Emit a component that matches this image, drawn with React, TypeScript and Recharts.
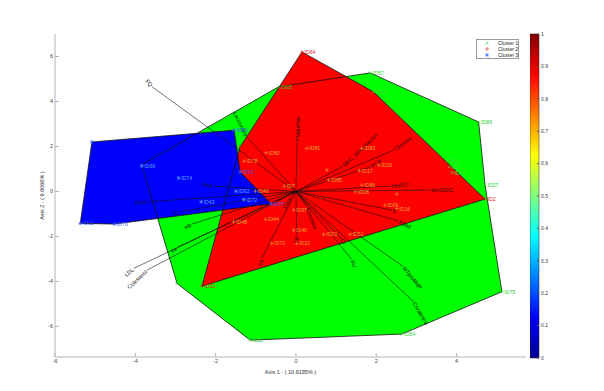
import React from 'react';
import { ScatterChart, Scatter, XAxis, YAxis, ComposedChart, ReferenceArea, Line } from 'recharts';

type Pt = { id: string; x: number; y: number };

// cluster members (Axis 1, Axis 2)
const cluster1: Pt[] = [
  { id: 'ID65', x: -0.43, y: 4.65 },
  { id: 'ID57', x: 1.85, y: 5.27 },
  { id: 'ID55', x: 1.93, y: 4.43 },
  { id: 'ID89', x: 4.55, y: 3.09 },
  { id: 'ID6', x: 3.77, y: 1.36 },
  { id: 'ID5', x: 3.82, y: 1.1 },
  { id: 'ID59', x: 3.89, y: 0.84 },
  { id: 'ID27', x: 4.71, y: 0.28 },
  { id: 'ID75', x: 5.13, y: -4.46 },
  { id: 'ID54', x: 2.64, y: -6.34 },
  { id: 'ID11', x: -1.14, y: -6.61 },
  { id: '', x: -2.96, y: -4.09 },
];

const cluster2: Pt[] = [
  { id: 'ID64', x: 0.15, y: 6.2 },
  { id: 'ID2', x: 4.71, y: -0.34 },
  { id: 'ID31', x: -2.34, y: -4.21 },
  { id: '', x: -1.39, y: 1.98 },
  { id: 'ID80', x: -0.74, y: 1.72 },
  { id: 'ID78', x: -1.29, y: 1.35 },
  { id: 'ID81', x: 0.27, y: 1.91 },
  { id: 'ID83', x: 1.64, y: 1.91 },
  { id: 'ID26', x: 2.06, y: 1.17 },
  { id: 'ID17', x: 1.58, y: 0.92 },
  { id: '', x: 0.77, y: 0.95 },
  { id: 'ID85', x: 0.81, y: 0.5 },
  { id: 'ID86', x: 1.64, y: 0.28 },
  { id: 'ID08', x: 1.48, y: -0.02 },
  { id: '', x: 2.51, y: -0.12 },
  { id: 'ID09', x: 2.22, y: -0.61 },
  { id: 'ID16', x: 2.51, y: -0.76 },
  { id: 'ID7', x: -0.29, y: 0.24 },
  { id: 'ID46', x: -1.01, y: 0.01 },
  { id: 'ID48', x: -1.55, y: -1.35 },
  { id: 'ID44', x: -0.76, y: -1.24 },
  { id: 'ID37', x: -0.06, y: -0.83 },
  { id: 'ID40', x: -0.06, y: -1.72 },
  { id: 'ID22', x: 0.02, y: -2.31 },
  { id: 'ID70', x: -0.6, y: -2.31 },
  { id: 'ID03', x: 0.69, y: -1.91 },
  { id: 'ID51', x: 1.35, y: -1.91 },
];

const cluster3: Pt[] = [
  { id: '', x: -5.08, y: 2.2 },
  { id: 'ID73', x: -1.54, y: 2.72 },
  { id: 'ID71', x: -1.39, y: 0.87 },
  { id: 'ID77', x: -0.62, y: -0.55 },
  { id: 'ID76', x: -4.52, y: -1.45 },
  { id: 'ID12', x: -5.37, y: -1.42 },
  { id: 'ID69', x: -3.84, y: 1.14 },
  { id: 'ID74', x: -2.92, y: 0.6 },
  { id: 'ID43', x: -2.36, y: -0.46 },
  { id: 'ID62', x: -1.49, y: 0.01 },
  { id: 'ID72', x: -1.3, y: -0.36 },
];

// hull vertices
const hull1 = [
  { x: -3.84, y: 1.19 }, { x: -0.43, y: 4.65 }, { x: 1.85, y: 5.27 }, { x: 4.55, y: 3.09 },
  { x: 4.71, y: 0.28 }, { x: 5.13, y: -4.46 }, { x: 2.64, y: -6.34 }, { x: -1.14, y: -6.61 },
  { x: -2.96, y: -4.09 },
];
const hull2 = [
  { x: 0.15, y: 6.2 }, { x: 1.93, y: 4.43 }, { x: 4.71, y: -0.34 }, { x: -2.34, y: -4.21 },
  { x: -1.39, y: 1.98 },
];
const hull3 = [
  { x: -5.08, y: 2.2 }, { x: -1.54, y: 2.72 }, { x: -1.39, y: 0.87 }, { x: -0.62, y: -0.55 },
  { x: -4.52, y: -1.45 }, { x: -5.37, y: -1.42 },
];

// variable loadings
const loadings = [
  { name: 'FQ', x: -3.58, y: 4.65 },
  { name: 'Leucocitos', x: -1.22, y: 2.43 },
  { name: 'Plaquetas', x: 0.03, y: 2.2 },
  { name: 'REC_alimentacion', x: 1.17, y: 1.12 },
  { name: 'PCR', x: 1.85, y: 1.09 },
  { name: 'Glucosa', x: 2.43, y: 1.83 },
  { name: 'HbA1C', x: 2.35, y: 0.24 },
  { name: 'MAGGIC', x: 3.34, y: 0.06 },
  { name: 'K', x: 2.39, y: -0.83 },
  { name: 'Edad', x: 2.55, y: -1.31 },
  { name: 'NTproBNP', x: 2.68, y: -3.35 },
  { name: 'Creatinina', x: 2.93, y: -4.9 },
  { name: 'AU', x: 1.39, y: -3.02 },
  { name: 'Cl', x: 1.13, y: -2.09 },
  { name: 'Albumina', x: 0.27, y: -0.68 },
  { name: 'Na', x: 0.02, y: -1.95 },
  { name: 'Ca', x: -0.85, y: -2.98 },
  { name: 'Urea', x: -0.14, y: -0.25 },
  { name: 'LDL', x: -4.04, y: -3.42 },
  { name: 'Colesterol', x: -3.71, y: -3.5 },
  { name: 'Fe', x: -2.95, y: -2.48 },
  { name: 'Hb', x: -2.59, y: -1.45 },
  { name: 'TG', x: -2.88, y: -0.9 },
  { name: 'PAD', x: -3.71, y: -0.46 },
  { name: 'PAS', x: -2.05, y: 0.24 },
];

const xTicks = [-6, -4, -2, 0, 2, 4];
const yTicks = [-6, -4, -2, 0, 2, 4, 6];
const cbTicks = [0, 0.1, 0.2, 0.3, 0.4, 0.5, 0.6, 0.7, 0.8, 0.9, 1];
const cbData = [{ x: 0, y: 0 }, { x: 1, y: 1 }];

const FONT = '"Liberation Sans", Arial, sans-serif';
const AXIS = '#b5b5b5';

const noShape = () => <g />;

const polyLine = (fill: string, stroke: string) => (p: any) => {
  const pts = (p.points || []).map((q: any) => `${q.x},${q.y}`).join(' ');
  return <polygon points={pts} fill={fill} stroke={stroke} strokeWidth={0.8} strokeLinejoin="round" />;
};

const vectorLine = (name: string, vx: number, vy: number) => (p: any) => {
  const [a, b] = p.points || [];
  if (!a || !b) return <g />;
  let theta = (Math.atan2(vy, vx) * 180) / Math.PI;
  const left = vx < 0;
  if (left) theta += 180;
  if (theta > 180) theta -= 360;
  const rot = -theta;
  return (
    <g>
      <line x1={a.x} y1={a.y} x2={b.x} y2={b.y} stroke="#111" strokeWidth={0.6} />
      <text
        x={b.x}
        y={b.y}
        dx={left ? -1 : 1}
        transform={`rotate(${rot}, ${b.x}, ${b.y})`}
        textAnchor={left ? 'end' : 'start'}
        dominantBaseline="central"
        fontSize={5.5}
        fontFamily={FONT}
        fill="#111"
      >
        {name}
      </text>
    </g>
  );
};

const isVertex = (hull: { x: number; y: number }[], p: Pt) => hull.some(h => h.x === p.x && h.y === p.y);

const marker = (kind: string, cx: number, cy: number, color: string) => {
  const s = 1.5;
  const lines: number[][] = [];
  if (kind === 'x' || kind === '*') {
    lines.push([cx - s, cy - s, cx + s, cy + s], [cx - s, cy + s, cx + s, cy - s]);
  }
  if (kind === '+' || kind === '*') {
    lines.push([cx - 2, cy, cx + 2, cy], [cx, cy - 2, cx, cy + 2]);
  }
  return lines.map((l, i) => <line key={i} x1={l[0]} y1={l[1]} x2={l[2]} y2={l[3]} stroke={color} strokeWidth={0.6} />);
};

const pointShape = (kind: string, color: string, vertexColor: string, hull: { x: number; y: number }[]) => (props: any) => {
  const { cx, cy, payload } = props;
  if (cx == null || cy == null) return <g />;
  const c = isVertex(hull, payload) ? vertexColor : color;
  return (
    <g>
      {marker(kind, cx, cy, c)}
      {payload.id ? (
        <text x={cx + 2.5} y={cy} dominantBaseline="central" fontSize={5.2} fontFamily={FONT} fill={c}>
          {payload.id}
        </text>
      ) : null}
    </g>
  );
};

export default function App() {
  const tickStyle = { fill: '#444', fontSize: 5.5, fontFamily: FONT };
  return (
    <div style={{ position: 'absolute', left: 0, top: 0, width: 604, height: 391, background: '#fff', fontFamily: FONT }}>
      <svg width={0} height={0} style={{ position: 'absolute' }}>
        <defs>
          <linearGradient id="jetGrad" x1="0" y1="1" x2="0" y2="0">
            <stop offset="0" stopColor="#00008f" />
            <stop offset="0.125" stopColor="#0000ff" />
            <stop offset="0.375" stopColor="#00ffff" />
            <stop offset="0.625" stopColor="#ffff00" />
            <stop offset="0.875" stopColor="#ff0000" />
            <stop offset="1" stopColor="#800000" />
          </linearGradient>
        </defs>
      </svg>
      <div style={{ position: 'absolute', left: 0, top: 0 }}>
        <ScatterChart width={604} height={391} margin={{ top: 34, right: 78, bottom: 0, left: 0 }}>
          <XAxis
            type="number"
            dataKey="x"
            domain={[-6, 5.73]}
            ticks={xTicks}
            allowDataOverflow
            height={34}
            tickSize={-4}
            tickMargin={6.5}
            stroke={AXIS}
            tick={tickStyle}
            label={{ value: 'Axis 1 - ( 10.6195% )', position: 'insideBottom', offset: 17, fill: '#333', fontSize: 5.5, fontFamily: FONT }}
          />
          <XAxis xAxisId="top" orientation="top" type="number" dataKey="x" domain={[-6, 5.73]} ticks={xTicks} allowDataOverflow height={0} tickSize={-4} tick={false} stroke={AXIS} />
          <YAxis
            type="number"
            dataKey="y"
            domain={[-7.36, 7]}
            ticks={yTicks}
            allowDataOverflow
            width={55}
            tickSize={-4}
            tickMargin={6}
            stroke={AXIS}
            tick={tickStyle}
            label={{ value: 'Axis 2 - ( 9.6066% )', angle: -90, position: 'insideLeft', offset: 42, textAnchor: 'middle', fill: '#333', fontSize: 5.5, fontFamily: FONT }}
          />
          <YAxis yAxisId="right" orientation="right" type="number" dataKey="y" domain={[-7.36, 7]} ticks={yTicks} allowDataOverflow width={0} tickSize={-4} tick={false} stroke={AXIS} />

          <Scatter data={hull1} shape={noShape} line={polyLine('#00ff00', 'none')} isAnimationActive={false} />
          <Scatter data={hull2} shape={noShape} line={polyLine('#ff0000', 'none')} isAnimationActive={false} />
          <Scatter data={hull3} shape={noShape} line={polyLine('#0000ff', 'none')} isAnimationActive={false} />
          <Scatter data={hull1} shape={noShape} line={polyLine('none', '#111')} isAnimationActive={false} />
          <Scatter data={hull2} shape={noShape} line={polyLine('none', '#111')} isAnimationActive={false} />
          <Scatter data={hull3} shape={noShape} line={polyLine('none', '#111')} isAnimationActive={false} />

          {loadings.map(v => (
            <Scatter
              key={v.name}
              data={[{ x: 0, y: 0 }, { x: v.x, y: v.y }]}
              shape={noShape}
              line={vectorLine(v.name, v.x, v.y)}
              isAnimationActive={false}
            />
          ))}

          <Scatter data={cluster1} shape={pointShape('x', '#3ee23e', '#2ccf2c', hull1)} isAnimationActive={false} />
          <Scatter data={cluster2} shape={pointShape('+', '#eaa33c', '#e02828', hull2)} isAnimationActive={false} />
          <Scatter data={cluster3} shape={pointShape('*', '#5aa2ff', '#3a5cff', hull3)} isAnimationActive={false} />
        </ScatterChart>
      </div>

      <div style={{ position: 'absolute', left: 530, top: 0 }}>
        <ComposedChart width={74} height={391} data={cbData} margin={{ top: 34, right: 0, bottom: 33, left: 0 }}>
          <XAxis type="number" dataKey="x" domain={[0, 1]} hide />
          <YAxis
            type="number"
            dataKey="y"
            orientation="right"
            domain={[0, 1]}
            ticks={cbTicks}
            width={65}
            tickSize={-2}
            tickMargin={4}
            axisLine={false}
            stroke="#555"
            tick={{ fill: '#333', fontSize: 5, fontFamily: FONT }}
          />
          <ReferenceArea x1={0} x2={1} y1={0} y2={1} fill="url(#jetGrad)" fillOpacity={1} stroke="#222" strokeWidth={0.5} />
          <Line dataKey="y" stroke="none" dot={false} isAnimationActive={false} />
        </ComposedChart>
      </div>

      <div
        style={{
          position: 'absolute',
          left: 476,
          top: 39,
          width: 41,
          height: 18,
          border: '1px solid #999',
          background: '#fff',
          fontSize: 5,
          lineHeight: '6px',
          color: '#222',
        }}
      >
        {[
          { label: 'Cluster 1', kind: 'x', color: '#3ee23e' },
          { label: 'Cluster 2', kind: '+', color: '#e02828' },
          { label: 'Cluster 3', kind: '*', color: '#3a5cff' },
        ].map(r => (
          <div key={r.label} style={{ display: 'flex', alignItems: 'center', height: 6 }}>
            <svg width={18} height={6}>{marker(r.kind, 10, 3, r.color)}</svg>
            <span style={{ marginLeft: 3 }}>{r.label}</span>
          </div>
        ))}
      </div>
    </div>
  );
}
